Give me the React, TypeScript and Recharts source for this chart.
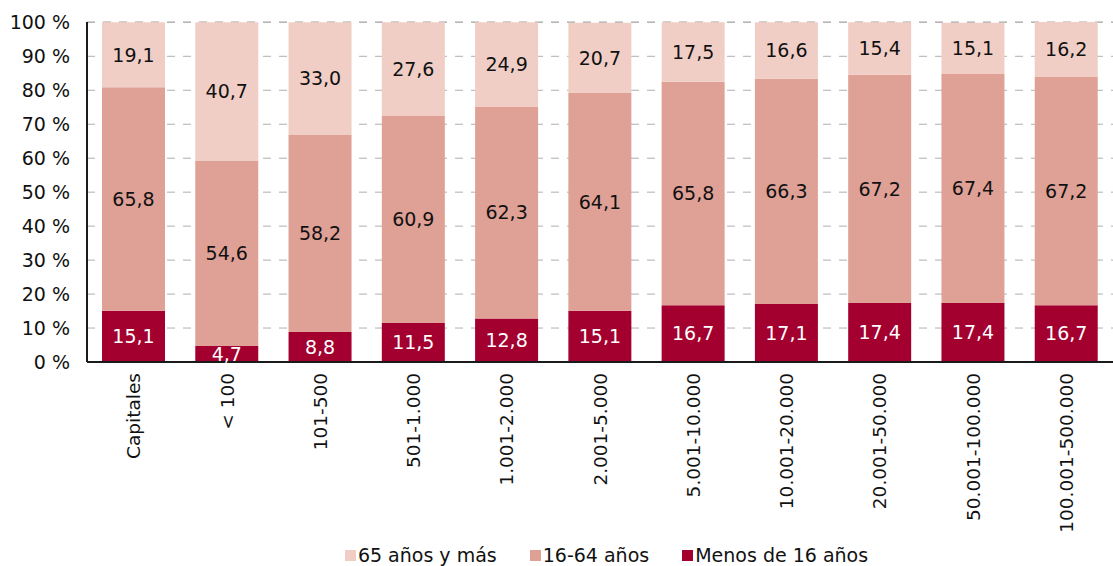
import { BarChart, Bar, XAxis, YAxis, CartesianGrid, Legend, LabelList } from 'recharts'

document.body.style.margin = '0'

const categories = [
  'Capitales', '< 100', '101-500', '501-1.000', '1.001-2.000', '2.001-5.000',
  '5.001-10.000', '10.001-20.000', '20.001-50.000', '50.001-100.000', '100.001-500.000',
]
const menos16 = [15.1, 4.7, 8.8, 11.5, 12.8, 15.1, 16.7, 17.1, 17.4, 17.4, 16.7]
const de16a64 = [65.8, 54.6, 58.2, 60.9, 62.3, 64.1, 65.8, 66.3, 67.2, 67.4, 67.2]
const mas65 = [19.1, 40.7, 33.0, 27.6, 24.9, 20.7, 17.5, 16.6, 15.4, 15.1, 16.2]
const yTicks = [0, 10, 20, 30, 40, 50, 60, 70, 80, 90, 100]

const SERIES = [
  { key: 'low', name: 'Menos de 16 años', color: '#a30030', label: '#ffffff' },
  { key: 'mid', name: '16-64 años', color: '#dfa096', label: '#111111' },
  { key: 'top', name: '65 años y más', color: '#f0cec5', label: '#111111' },
]

const data = categories.map((name, i) => ({
  name,
  low: menos16[i],
  mid: de16a64[i],
  top: mas65[i],
}))

const FONT = '"DejaVu Sans", Verdana, sans-serif'
const fmt = (v: unknown) => Number(v).toFixed(1).replace('.', ',')

function XTick({ x, y, payload }: any) {
  return (
    <text
      x={x}
      y={y + 3}
      dy="0.36em"
      transform={`rotate(-90, ${x}, ${y + 3})`}
      textAnchor="end"
      fontSize={18.5}
      fontFamily={FONT}
      fill="#111"
    >
      {payload.value}
    </text>
  )
}

function LegendContent() {
  const items = [...SERIES].reverse()
  return (
    <div
      style={{
        display: 'flex',
        justifyContent: 'center',
        gap: 33,
        height: 24,
        alignItems: 'flex-end',
        fontFamily: FONT,
        fontSize: 19,
        lineHeight: '22px',
        color: '#111',
        paddingLeft: 100,
      }}
    >
      {items.map((s) => (
        <div key={s.key} style={{ display: 'flex', alignItems: 'center' }}>
          <span style={{ width: 11, height: 11, background: s.color, marginRight: 2, display: 'inline-block' }} />
          <span>{s.name}</span>
        </div>
      ))}
    </div>
  )
}

export default function App() {
  return (
    <BarChart
      width={1113}
      height={566}
      data={data}
      margin={{ top: 22, right: 0, left: 0, bottom: 0 }}
      barSize={63}
    >
      <CartesianGrid vertical={false} strokeDasharray="8 8" stroke="#b0b0b0" />
      <XAxis
        dataKey="name"
        interval={0}
        height={180}
        tickLine={false}
        axisLine={{ stroke: '#1a1a1a', strokeWidth: 2 }}
        tick={<XTick />}
      />
      <YAxis
        width={87}
        domain={[0, 100]}
        ticks={yTicks}
        tickFormatter={(v) => `${v} %`}
        tickLine={false}
        tickMargin={11}
        axisLine={{ stroke: '#1a1a1a', strokeWidth: 2 }}
        tick={{ fontSize: 19, fill: '#111', fontFamily: FONT }}
      />
      <Legend verticalAlign="bottom" content={<LegendContent />} />
      {SERIES.map((s) => (
        <Bar key={s.key} dataKey={s.key} name={s.name} stackId="a" fill={s.color} isAnimationActive={false}>
          <LabelList
            dataKey={s.key}
            position="center"
            formatter={fmt}
            fill={s.label}
            fontSize={19}
            fontFamily={FONT}
          />
        </Bar>
      ))}
    </BarChart>
  )
}
